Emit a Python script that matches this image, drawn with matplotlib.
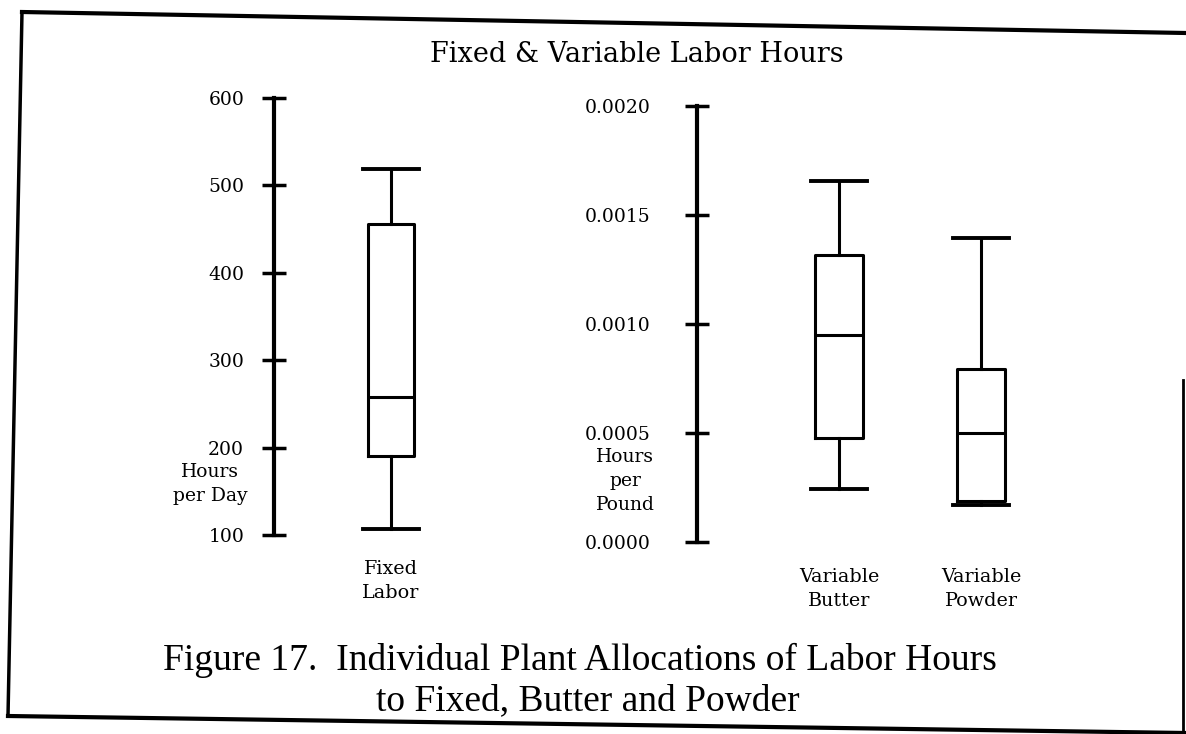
import matplotlib
matplotlib.use("Agg")
import matplotlib.pyplot as plt
from matplotlib.lines import Line2D

# box statistics
fixed_labels = ["Fixed\nLabor"]
fixed_stats = {"whislo": 107, "q1": 190, "med": 258, "q3": 456, "whishi": 519}

var_labels = ["Variable\nButter", "Variable\nPowder"]
var_whislo = [0.000244, 0.00017]
var_q1 = [0.000478, 0.000186]
var_med = [0.000951, 0.000500]
var_q3 = [0.001316, 0.000793]
var_whishi = [0.001654, 0.001395]

left_ticks = [100, 200, 300, 400, 500, 600]
right_ticks = [0.0000, 0.0005, 0.0010, 0.0015, 0.0020]

W, H = 1186, 734
fig = plt.figure(figsize=(W / 100, H / 100), dpi=100)
serif = ["DejaVu Serif"]

def px_box(x0, y_top, x1, y_bot):
    return [x0 / W, 1 - y_bot / H, (x1 - x0) / W, (y_bot - y_top) / H]

lw = 2.2
props = dict(
    boxprops=dict(color="black", linewidth=lw),
    medianprops=dict(color="black", linewidth=lw),
    whiskerprops=dict(color="black", linewidth=lw),
    capprops=dict(color="black", linewidth=lw + 0.6),
)

def style_axis(ax, pad_y, pad_x, ysize):
    for s in ["top", "right", "bottom"]:
        ax.spines[s].set_visible(False)
    ax.spines["left"].set_linewidth(3)
    ax.tick_params(axis="y", direction="inout", length=17, width=2.5, pad=pad_y,
                   labelsize=ysize)
    ax.tick_params(axis="x", length=0, pad=pad_x, labelsize=13.8)
    for t in ax.get_xticklabels() + ax.get_yticklabels():
        t.set_family(serif)
    ax.patch.set_alpha(0)

# left panel: fixed labor (hours per day)
ax1 = fig.add_axes(px_box(274, 98, 508, 535))
st = dict(fixed_stats, fliers=[], label=fixed_labels[0])
ax1.bxp([st], positions=[1], widths=0.4, capwidths=0.48, showfliers=False, **props)
ax1.set_xlim(0, 2)
ax1.set_ylim(left_ticks[0], left_ticks[-1])
ax1.set_yticks(left_ticks)
ax1.set_yticklabels([str(v) for v in left_ticks])
ax1.set_xticks([1])
ax1.set_xticklabels(fixed_labels, linespacing=1.4)
style_axis(ax1, pad_y=13, pad_x=18, ysize=13.5)

# right panel: variable labor (hours per pound)
ax2 = fig.add_axes(px_box(697, 106, 697 + 2.3 * 142, 542))
stats = []
for i, lab in enumerate(var_labels):
    stats.append({"whislo": var_whislo[i], "q1": var_q1[i], "med": var_med[i],
                  "q3": var_q3[i], "whishi": var_whishi[i], "fliers": [], "label": lab})
ax2.bxp(stats, positions=[1, 2], widths=0.34, capwidths=0.39, showfliers=False, **props)
ax2.set_xlim(0, 2.3)
ax2.set_ylim(right_ticks[0], right_ticks[-1])
ax2.set_yticks(right_ticks)
ax2.set_yticklabels([f"{v:.4f}" for v in right_ticks])
ax2.set_xticks([1, 2])
ax2.set_xticklabels(var_labels, linespacing=1.4)
style_axis(ax2, pad_y=25, pad_x=19, ysize=13.5)

# unit labels squeezed between tick labels
fig.text(210 / W, 1 - 484 / H, "Hours\nper Day", ha="center", va="center",
         fontsize=13.5, family=serif, linespacing=1.45)
fig.text(625 / W, 1 - 481 / H, "Hours\nper\nPound", ha="center", va="center",
         fontsize=13.5, family=serif, linespacing=1.4)

fig.text(637 / W, 1 - 55 / H, "Fixed & Variable Labor Hours", ha="center", va="center",
         fontsize=19.5, family=serif)
fig.text(580 / W, 1 - 660 / H, "Figure 17.  Individual Plant Allocations of Labor Hours",
         ha="center", va="center", fontsize=27, family=["Liberation Serif"])
fig.text(588 / W, 1 - 701 / H, "to Fixed, Butter and Powder",
         ha="center", va="center", fontsize=27, family=["Liberation Serif"])

# page frame from the scan
def frame(x0, y0, x1, y1, w):
    fig.add_artist(Line2D([x0 / W, x1 / W], [1 - y0 / H, 1 - y1 / H],
                          transform=fig.transFigure, color="black", linewidth=w))

frame(22, 12, 1186, 33, 3)
frame(22, 12, 8, 716, 2.5)
frame(8, 716, 1186, 733, 3)
frame(1183, 380, 1183, 734, 2)

fig.savefig("out.png", dpi=100)
